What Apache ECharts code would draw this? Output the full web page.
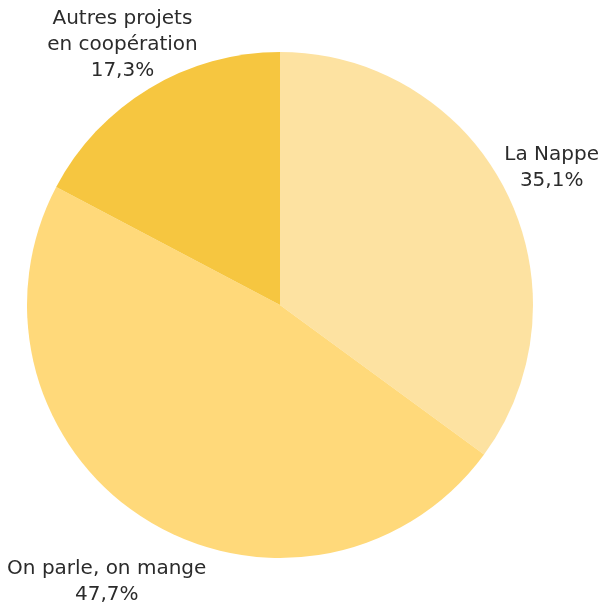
<!DOCTYPE html>
<html>
<head>
<meta charset="utf-8">
<script src="https://cdn.jsdelivr.net/npm/echarts@6/dist/echarts.min.js"></script>
<style>
	html, body { margin: 0; padding: 0; background: #fff; }
	#main { width: 601px; height: 610px; }
</style>
</head>
<body>
<div id="main"></div>
<script>
// données du graphique
var categories = ['La Nappe', 'On parle, on mange', 'Autres projets\nen coopération'];
var values = [35.1, 47.7, 17.3];
var colors = ['#FDE2A1', '#FFD97A', '#F6C640'];

var myChart = echarts.init(document.getElementById('main'));

var data = categories.map(function (name, i) {
	var item = { name: name, value: values[i], itemStyle: { color: colors[i] } };
	// l'étiquette du bas est un peu plus éloignée
	if (i === 1) {
		item.labelLine = { show: false, length: 73, length2: 0 };
	}
	return item;
});

var option = {
	backgroundColor: '#ffffff',
	animation: false,
	series: [{
		type: 'pie',
		center: [280, 305],
		radius: 253,
		startAngle: 90,
		clockwise: true,
		avoidLabelOverlap: false,
		label: {
			show: true,
			position: 'outside',
			distanceToLabelLine: 0,
			width: 1,
			overflow: 'none',
			formatter: function (p) {
				var lines = p.name.split('\n');
				lines.push(p.value.toFixed(1).replace('.', ',') + '%');
				return lines.map(function (l) { return '{t|' + l + '}'; }).join('\n');
			},
			rich: {
				t: {
					align: 'center',
					fontFamily: 'DejaVu Sans',
					fontSize: 20,
					lineHeight: 26,
					color: '#2b2b2b'
				}
			}
		},
		labelLine: { show: false, length: 51, length2: 0 },
		emphasis: { disabled: true },
		data: data
	}]
};

myChart.setOption(option);
</script>
</body>
</html>
